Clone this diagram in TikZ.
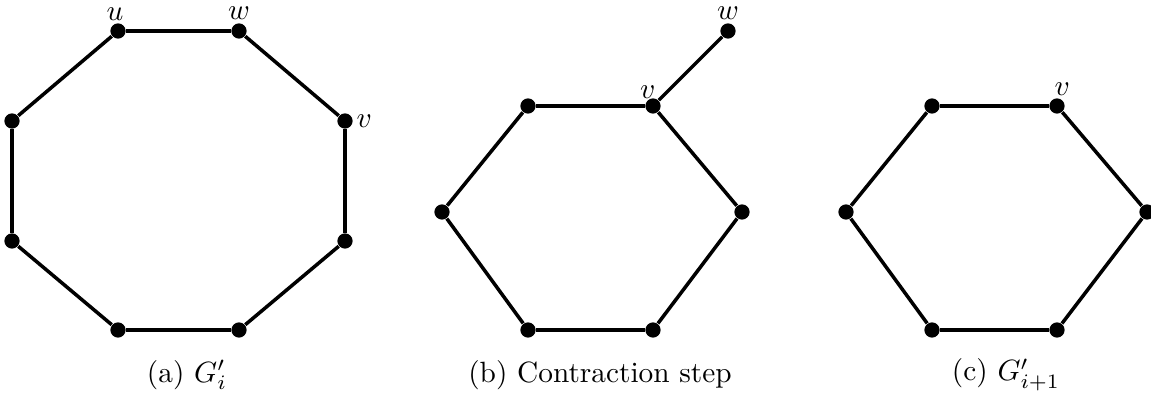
\documentclass[tikz,border=0pt]{standalone}
\usepackage{tikz}
\usetikzlibrary{positioning}
\begin{document}
\begin{tikzpicture}[x=0.341pt,y=-0.341pt,
  vert/.style={circle,fill=black,inner sep=0pt,minimum size=5.2pt},
  edge/.style={line width=1.2pt},
  lab/.style={inner sep=1pt},
  subcap/.style={font=\normalsize}]
\useasboundingbox (0,0) rectangle (1151,398);
% (a) G_i'
\node[vert] (a1) at (118,31) {};
\node[vert] (a2) at (239,31) {};
\node[vert] (a3) at (345,121) {};
\node[vert] (a4) at (345,241) {};
\node[vert] (a5) at (239,330) {};
\node[vert] (a6) at (118,330) {};
\node[vert] (a7) at (12,241) {};
\node[vert] (a8) at (12,121) {};
\draw[edge] (a1)--(a2)--(a3)--(a4)--(a5)--(a6)--(a7)--(a8)--(a1);
\node[lab,above left=0.5pt and -5pt of a1] {$u$};
\node[lab,above=-0.2pt of a2] {$w$};
\node[lab,right=0pt of a3] {$v$};
\node[subcap] (ca) at (187,375) {(a) $G_i'$};
% (b) contraction step
\node[vert] (b1) at (528,106) {};
\node[vert] (b2) at (653,106) {};
\node[vert] (b3) at (742,212) {};
\node[vert] (b4) at (653,330) {};
\node[vert] (b5) at (528,330) {};
\node[vert] (b6) at (442,212) {};
\node[vert] (bw) at (728,31) {};
\draw[edge] (b1)--(b2)--(b3)--(b4)--(b5)--(b6)--(b1);
\draw[edge] (b2)--(bw);
\node[lab,above left=-0.5pt and -4pt of b2] {$v$};
\node[lab,above=-0.2pt of bw] {$w$};
\node[subcap] (cb) at (600,375) {(b) Contraction step};
% (c) G_{i+1}'
\node[vert] (c1) at (932,106) {};
\node[vert] (c2) at (1057,106) {};
\node[vert] (c3) at (1147,212) {};
\node[vert] (c4) at (1057,330) {};
\node[vert] (c5) at (932,330) {};
\node[vert] (c6) at (846,212) {};
\draw[edge] (c1)--(c2)--(c3)--(c4)--(c5)--(c6)--(c1);
\node[lab,above right=0.5pt and -4pt of c2] {$v$};
\node[subcap] (cc) at (1006,375) {(c) $G_{i+1}'$};
\end{tikzpicture}
\end{document}
